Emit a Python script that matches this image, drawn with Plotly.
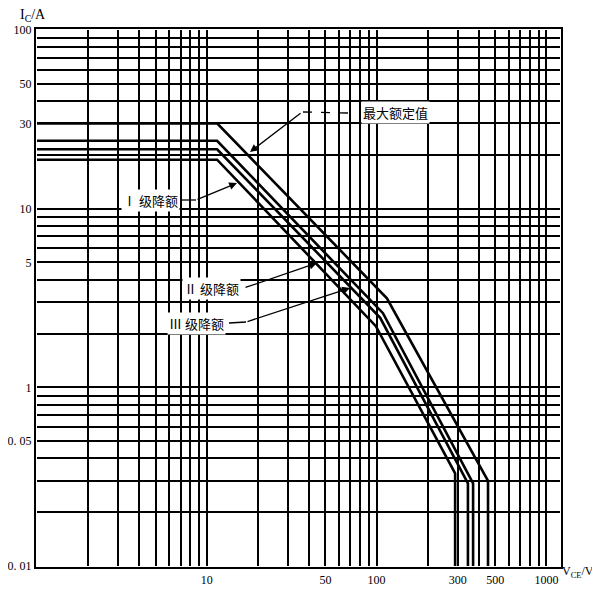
import plotly.graph_objects as go

# ---- data (V in volts, I in amperes) ----
V_max = [1, 11.5, 115, 453, 453]
I_max = [30, 30, 3.15, 0.30, 0.1]
V_lvl3 = [1, 11.5, 109, 370, 370]
I_lvl3 = [24, 24, 2.6, 0.29, 0.1]
V_lvl2 = [1, 11.5, 105, 345, 345]
I_lvl2 = [21.5, 21.5, 2.45, 0.29, 0.1]
V_lvl1 = [1, 11.5, 99, 290, 290]
I_lvl1 = [18.8, 18.8, 2.2, 0.33, 0.1]

y_tickvals = [100, 50, 30, 10, 5, 1, 0.5, 0.1]
y_ticktext = ["100", "50", "30", "10", "5", "1", "0. 05", "0. 01"]
x_tickvals = [10, 50, 100, 300, 500, 1000]
x_ticktext = ["10", "50", "100", "300", "500", "1000"]

OFF = 8
W, H = 600 - OFF, 595 - OFF
PL, PR, PT, PB = 37, 560, 30, 566          # plot box in page pixels
L, T = PL - OFF, PT - OFF
R, B = W - (PR - OFF), H - (PB - OFF)
PW, PH = PR - PL, PB - PT


def fx(px):
    return (px - PL) / PW


def fy(py):
    return 1 - (py - PT) / PH


fig = go.Figure()
for V, I in [(V_max, I_max), (V_lvl3, I_lvl3), (V_lvl2, I_lvl2), (V_lvl1, I_lvl1)]:
    fig.add_trace(go.Scatter(x=V, y=I, mode="lines",
                             line=dict(color="black", width=2.6),
                             showlegend=False, hoverinfo="skip"))

cjk = "Noto Sans CJK SC"
serif = "Liberation Serif"

annotations = []
shapes = []

labels = [
    ("最大额定值", 395, 113),
    ("Ⅰ 级降额", 150, 200),
    ("Ⅱ 级降额", 211, 288),
    ("Ⅲ 级降额", 196, 323),
]
for txt, px, py in labels:
    annotations.append(dict(xref="paper", yref="paper", x=fx(px), y=fy(py),
                            text=txt, showarrow=False, bgcolor="white",
                            font=dict(family=cjk, size=13, color="black"),
                            xanchor="center", yanchor="middle"))

leaders = [((348, 113), (302, 112), "dash"),
           ((180, 200), (196, 200), "solid"),
           ((229, 323), (246, 322), "solid")]
for (x0, y0), (x1, y1), dash in leaders:
    shapes.append(dict(type="line", xref="paper", yref="paper",
                       x0=fx(x0), y0=fy(y0), x1=fx(x1), y1=fy(y1),
                       line=dict(color="black", width=1.3, dash=dash)))

arrows = [((302, 112), (250, 152)),
          ((196, 200), (237, 183)),
          ((244, 288), (317, 263)),
          ((246, 322), (350, 288))]
for (tx, ty), (hx, hy) in arrows:
    annotations.append(dict(xref="paper", yref="paper", x=fx(hx), y=fy(hy),
                            ax=tx - hx, ay=ty - hy, text="",
                            showarrow=True, arrowhead=2, arrowsize=1.2,
                            arrowwidth=1.3, arrowcolor="black",
                            standoff=0, startstandoff=0))

annotations.append(dict(xref="paper", yref="paper", x=fx(33), y=fy(16),
                        text="I<sub>C</sub>/A", showarrow=False,
                        font=dict(family=serif, size=14, color="black"),
                        xanchor="center", yanchor="middle"))
annotations.append(dict(xref="paper", yref="paper", x=fx(578), y=fy(572),
                        text="V<sub>CE</sub>/V", showarrow=False,
                        font=dict(family=serif, size=12, color="black"),
                        xanchor="center", yanchor="middle"))

grid_common = dict(showgrid=True, gridcolor="black", gridwidth=1.6,
                   showline=True, linecolor="black", linewidth=2.2, mirror=True,
                   ticks="", zeroline=False, automargin=False,
                   tickfont=dict(family=serif, size=12, color="black"))

fig.update_xaxes(type="log", range=[0, 3.08], tickmode="array",
                 tickvals=x_tickvals, ticktext=x_ticktext,
                 minor=dict(dtick="D1", showgrid=True, gridcolor="black",
                            gridwidth=1.6, ticks=""),
                 **grid_common)
fig.update_yaxes(type="log", range=[-1, 2], tickmode="array",
                 tickvals=y_tickvals, ticktext=y_ticktext,
                 minor=dict(dtick="D1", showgrid=True, gridcolor="black",
                            gridwidth=1.6, ticks=""),
                 **grid_common)

fig.update_layout(width=W, height=H,
                  margin=dict(l=L, r=R, t=T, b=B, pad=1),
                  paper_bgcolor="white", plot_bgcolor="white",
                  annotations=annotations, shapes=shapes,
                  showlegend=False)

fig.write_html("out.html")
